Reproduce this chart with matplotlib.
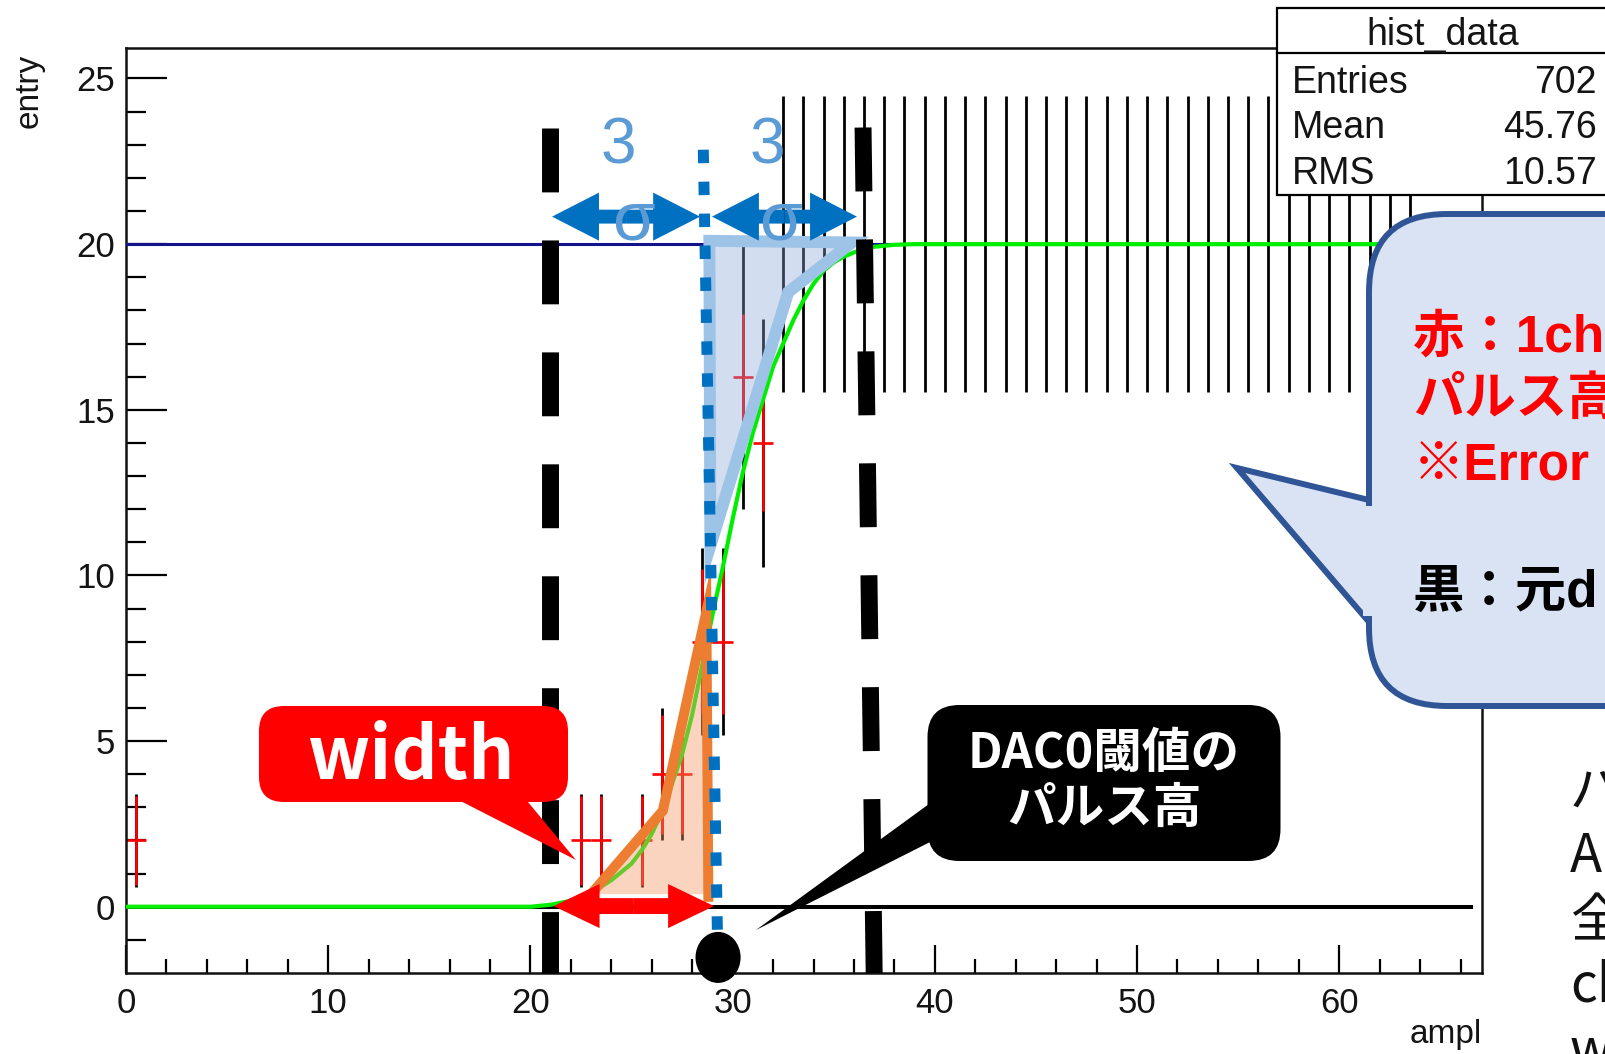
import numpy as np
import matplotlib
matplotlib.use("Agg")
import matplotlib.pyplot as plt
from matplotlib import patches as mpatches

plt.rcParams['lines.scale_dashes'] = False

# ---------------- data ----------------
# bins with partial efficiency (red crosses + black error bars)
partial_bins = [0.5, 22.5, 23.5, 25.5, 26.5, 27.5, 28.5, 29.5, 30.5, 31.5]
partial_counts = [2, 2, 2, 2, 4, 4, 8, 8, 16, 14]
partial_err_black = [1.41, 1.41, 1.41, 1.41, 2.0, 2.0, 2.83, 2.83, 4.0, 3.74]
partial_err_red = [1.34, 1.34, 1.34, 1.34, 1.79, 1.79, 2.19, 2.19, 1.9, 2.05]

# fully efficient bins (value 20, black error bars)
full_bins = [32.5, 33.5, 34.5, 35.5, 36.5, 37.5, 38.5, 39.5, 40.5, 41.5, 42.5,
             43.5, 44.5, 45.5, 46.5, 47.5, 48.5, 49.5, 50.5, 51.5, 52.5, 53.5,
             54.5, 55.5, 56.5, 57.5, 58.5, 59.5, 60.5, 61.5, 62.5, 63.5]
full_counts = [20, 20, 20, 20, 20, 20, 20, 20, 20, 20, 20, 20, 20, 20, 20, 20,
               20, 20, 20, 20, 20, 20, 20, 20, 20, 20, 20, 20, 20, 20, 20, 20]
full_err_black = [4.47] * len(full_bins)

# fitted error-function curve (green)
fit_x = [0.0, 20.0, 21.0, 22.0, 23.0, 24.0, 25.0, 25.5, 26.0, 26.5, 27.0, 27.5,
         28.0, 28.5, 29.0, 29.5, 30.0, 30.5, 31.0, 31.5, 32.0, 32.5, 33.0, 33.5,
         34.0, 34.5, 35.0, 35.5, 36.0, 36.5, 37.0, 38.0, 39.0, 67.0]
fit_y = [0.0, 0.0, 0.06, 0.18, 0.42, 0.8, 1.3, 1.7, 2.2, 2.85, 3.7, 4.6,
         5.8, 7.3, 8.8, 10.2, 11.7, 13.1, 14.3, 15.3, 16.3, 17.0, 17.7, 18.3,
         18.8, 19.2, 19.45, 19.62, 19.75, 19.85, 19.92, 19.98, 20.0, 20.0]

plateau_level = 20
x_major = [0, 10, 20, 30, 40, 50, 60]
x_minor = [2, 4, 6, 8, 12, 14, 16, 18, 22, 24, 26, 28, 32, 34, 36, 38, 42, 44,
           46, 48, 52, 54, 56, 58, 62, 64, 66]
y_major = [0, 5, 10, 15, 20, 25]
y_minor = [-1, 1, 2, 3, 4, 6, 7, 8, 9, 11, 12, 13, 14, 16, 17, 18, 19, 21, 22,
           23, 24, 25]

stat_title = "hist_data"
stat_names = ["Entries", "Mean", "RMS"]
stat_values = ["702", "45.76", "10.57"]

# annotation geometry (data coordinates)
thr_left_x = 20.97
thr_right_x = (36.45, 37.0)
center_x = (28.55, 29.25)
blue_poly = [(28.85, 20.1), (35.9, 20.05), (32.75, 18.55), (28.9, 10.9)]
orange_fill = [(23.0, 0.38), (26.55, 2.9), (28.7, 8.9), (28.8, 0.38)]
orange_edge = [(22.6, 0.1), (26.55, 2.9), (28.7, 8.9), (28.8, 0.3)]

# ---------------- figure ----------------
W, H = 1606, 1054
fig = plt.figure(figsize=(W / 100, H / 100), dpi=100)
ax = fig.add_axes([126 / W, 1 - 973 / H, (1482 - 126) / W, (973 - 48) / H])
ax.set_xlim(0, 67.06)
ax.set_ylim(-2.0, 25.92)

root_font = "Liberation Sans"
txt_col = "#141414"

# histogram error bars
ax.vlines(full_bins, np.array(full_counts) - np.array(full_err_black),
          np.array(full_counts) + np.array(full_err_black),
          color="black", lw=2.0, zorder=2)
ax.vlines(partial_bins, np.array(partial_counts) - np.array(partial_err_black),
          np.array(partial_counts) + np.array(partial_err_black),
          color="black", lw=2.0, zorder=2)
ax.vlines(partial_bins, np.array(partial_counts) - np.array(partial_err_red),
          np.array(partial_counts) + np.array(partial_err_red),
          color="red", lw=1.9, zorder=2.5)
ax.hlines(partial_counts, np.array(partial_bins) - 0.5, np.array(partial_bins) + 0.5,
          color="red", lw=1.9, zorder=2.5)
ax.hlines(full_counts, np.array(full_bins) - 0.5, np.array(full_bins) + 0.5,
          color="red", lw=1.9, zorder=2.5)

# reference lines
ax.axhline(plateau_level, color="#12128a", lw=2.2, zorder=3)
ax.plot([0, 66.6], [0, 0], color="black", lw=2.9, zorder=3, solid_capstyle="butt")

# fitted curve
ax.plot(fit_x, fit_y, color="#00ee00", lw=3.0, zorder=4)

# shaded regions
ax.add_patch(mpatches.Polygon(blue_poly, closed=True, fc=(0.55, 0.66, 0.85, 0.38),
                              ec="#9DC3E6", lw=8.6, joinstyle="miter", zorder=5))
ax.add_patch(mpatches.Polygon(orange_fill, closed=True, fc=(0.96, 0.6, 0.4, 0.42),
                              ec="none", zorder=5))
ox, oy = zip(*orange_edge)
ax.plot(ox, oy, color="#ED7D31", lw=7.2, solid_joinstyle="miter", zorder=5.1)

# threshold lines
ax.plot([thr_left_x, thr_left_x], [23.52, -2.0], color="black", lw=12.2,
        dashes=(46, 34.6), dash_capstyle="butt", zorder=6, clip_on=False)
ax.plot(list(thr_right_x), [23.52, -2.0], color="black", lw=12.2,
        dashes=(46, 34.6), dash_capstyle="butt", zorder=6, clip_on=False)
ax.plot(list(center_x), [22.85, -0.85], color="#0070C0", lw=7.9,
        dashes=(9.7, 13.3), dash_capstyle="butt", zorder=6, clip_on=False)


def double_arrow(x0, x1, y, width, head_width, head_length, color):
    xm = (x0 + x1) / 2
    for xs, xe in ((xm, x0), (xm, x1)):
        ax.add_patch(mpatches.FancyArrow(xs, y, xe - xs, 0, width=width,
                                         head_width=head_width, head_length=head_length,
                                         length_includes_head=True, color=color,
                                         lw=0, zorder=7, clip_on=False))


double_arrow(21.07, 28.39, 20.83, 0.42, 1.45, 2.32, "#0070C0")
double_arrow(28.98, 36.15, 20.83, 0.42, 1.45, 2.32, "#0070C0")
double_arrow(21.15, 29.08, 0.02, 0.48, 1.33, 2.27, "#FF0000")

ax.add_patch(mpatches.Ellipse((29.28, -1.53), 2.23, 1.54, fc="black", ec="none",
                              zorder=8, clip_on=False))

# axes styling (ROOT-like)
for sp in ax.spines.values():
    sp.set_linewidth(1.8)
    sp.set_color("#111111")
ax.set_xticks(x_major)
ax.set_xticks(x_minor, minor=True)
ax.set_yticks(y_major)
ax.set_yticks(y_minor, minor=True)
ax.tick_params(axis="x", which="major", direction="in", length=20, width=1.6,
               top=False, labelsize=25, pad=10, labelcolor=txt_col)
ax.tick_params(axis="x", which="minor", direction="in", length=10, width=1.6, top=False)
ax.tick_params(axis="y", which="major", direction="in", length=29.5, width=1.6,
               right=False, labelsize=25, pad=8, labelcolor=txt_col)
ax.tick_params(axis="y", which="minor", direction="in", length=14.5, width=1.6, right=False)
for lab in ax.get_xticklabels() + ax.get_yticklabels():
    lab.set_fontfamily(root_font)

# ---------------- overlay in pixel coordinates ----------------
ov = fig.add_axes([0, 0, 1, 1], zorder=10)
ov.set_xlim(0, W)
ov.set_ylim(H, 0)
ov.axis("off")
ov.patch.set_alpha(0)

# axis titles
ov.text(29, 91, "entry", rotation=90, ha="center", va="center", fontsize=24,
        family=root_font, color=txt_col)
ov.text(1482, 1043, "ampl", ha="right", va="baseline", fontsize=24,
        family=root_font, color=txt_col)

# stats box
ov.add_patch(mpatches.Rectangle((1277, 8), 420, 187, fc="white", ec="black", lw=1.6))
ov.plot([1277, 1700], [53, 53], color="black", lw=1.6)
ov.text(1443, 45, stat_title, ha="center", va="baseline", fontsize=27,
        family=root_font, color=txt_col)
for i, (nm, val) in enumerate(zip(stat_names, stat_values)):
    yb = [93, 138, 184][i]
    ov.text(1292, yb, nm, ha="left", va="baseline", fontsize=27, family=root_font,
            color=txt_col)
    ov.text(1597, yb, val, ha="right", va="baseline", fontsize=27, family=root_font,
            color=txt_col)

# 3 sigma labels
sig_col = "#5B9BD5"
for xc, xs in ((618, 634), (767, 781)):
    ov.text(xc, 163, "3", ha="center", va="baseline", fontsize=46,
            family=root_font, color=sig_col)
    ov.text(xs, 240, "σ", ha="center", va="baseline", fontsize=50,
            family=root_font, color=sig_col)

cjk = ["Noto Sans CJK JP", "DejaVu Sans"]
mixed = ["Liberation Sans", "Noto Sans CJK JP", "DejaVu Sans"]

# big explanation callout (light blue)
cfill, cedge = "#DAE3F3", "#2F5597"
ov.add_patch(mpatches.FancyBboxPatch((1369, 214), 520, 492,
                                     boxstyle="round,pad=0,rounding_size=78",
                                     fc=cfill, ec=cedge, lw=4.3, zorder=1))
ov.add_patch(mpatches.Polygon([(1369, 500), (1237, 468), (1369, 622)], closed=True,
                              fc=cfill, ec=cedge, lw=4.3, joinstyle="miter", zorder=1.1))
ov.add_patch(mpatches.Rectangle((1363, 506), 14, 110, fc=cfill, ec="none", zorder=1.2))
ov.text(1413, 352, "赤：1ch", ha="left", va="baseline", fontsize=37,
        fontweight="bold", family=mixed, color="#FF0000", zorder=2)
ov.text(1413, 414, "パルス高", ha="left", va="baseline", fontsize=37,
        fontweight="bold", family=mixed, color="#FF0000", zorder=2)
ov.text(1413, 480, "※Error", ha="left", va="baseline", fontsize=37,
        fontweight="bold", family=mixed, color="#FF0000", zorder=2)
ov.text(1413, 607, "黒：元d", ha="left", va="baseline", fontsize=37,
        fontweight="bold", family=mixed, color="black", zorder=2)

# black callout
ov.add_patch(mpatches.FancyBboxPatch((927.5, 705), 353, 156,
                                     boxstyle="round,pad=0,rounding_size=32",
                                     fc="black", ec="none", zorder=1))
ov.add_patch(mpatches.Polygon([(940, 796), (756, 930), (940, 837)], closed=True,
                              fc="black", ec="none", zorder=1))
ov.text(1104, 768, "DAC0閾値の", ha="center", va="baseline", fontsize=35,
        fontweight="bold", family=cjk, color="white", zorder=2)
ov.text(1105, 823, "パルス高", ha="center", va="baseline", fontsize=35,
        fontweight="bold", family=cjk, color="white", zorder=2)

# red "width" callout
ov.add_patch(mpatches.FancyBboxPatch((259, 706), 309, 96,
                                     boxstyle="round,pad=0,rounding_size=25",
                                     fc="#FF0000", ec="none", zorder=1))
ov.add_patch(mpatches.Polygon([(439, 790), (576, 860), (518, 790)], closed=True,
                              fc="#FF0000", ec="none", zorder=1))
ov.text(412, 779, "width", ha="center", va="baseline", fontsize=52,
        fontweight="bold", family=cjk, color="white", zorder=2)

# slide text cut at the right edge
for yb, s in ((807, "パ"), (872, "A"), (937, "全"), (1002, "ch"), (1067, "w")):
    ov.text(1570, yb, s, ha="left", va="baseline", fontsize=38, family=cjk,
            color="#111111")

fig.savefig("out.png", dpi=100)
